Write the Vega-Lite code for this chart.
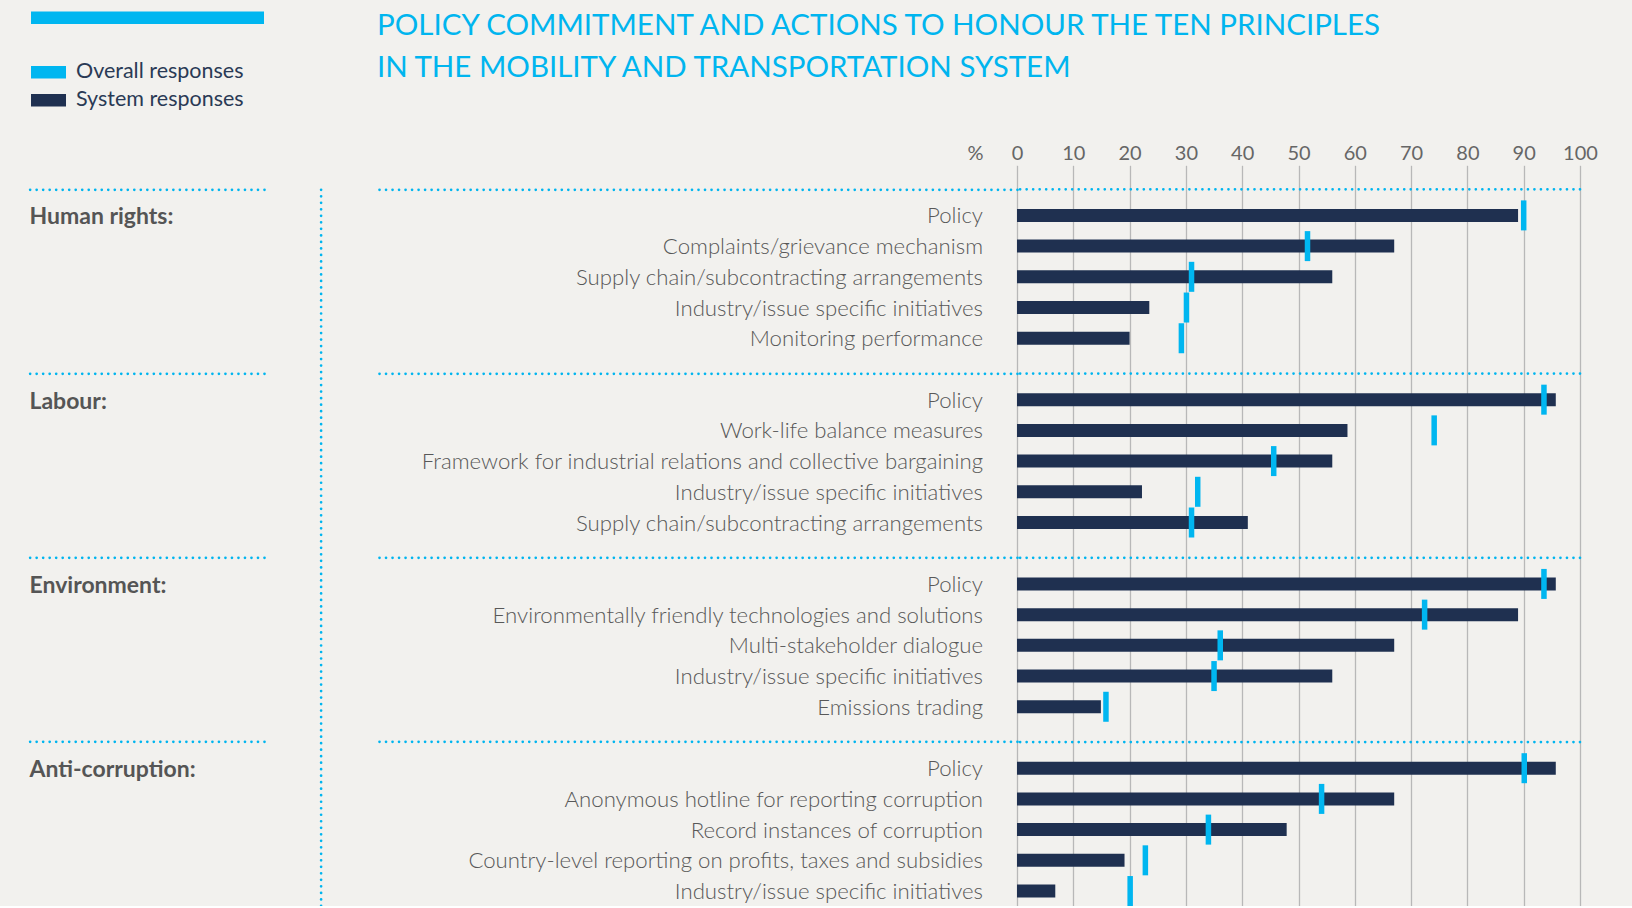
{
  "$schema": "https://vega.github.io/schema/vega-lite/v6.json",
  "autosize": {"type": "none"},
  "padding": {"left": 1017, "top": 189.3, "right": 52, "bottom": 0},
  "width": 563,
  "height": 717.1,
  "background": "#F2F1EE",
  "title": {
    "text": ["POLICY COMMITMENT AND ACTIONS TO HONOUR THE TEN PRINCIPLES", "IN THE MOBILITY AND TRANSPORTATION SYSTEM"],
    "anchor": "start",
    "frame": "group",
    "dx": -640,
    "dy": 72,
    "offset": 0,
    "font": "Lato",
    "fontSize": 29.5,
    "fontWeight": "normal",
    "color": "#00B5EF",
    "lineHeight": 41.5
  },
  "data": {
    "values": [
      {"key": "Policy|Human rights:", "system": 89, "overall": 90},
      {"key": "Complaints/grievance mechanism|Human rights:", "system": 67, "overall": 51.6},
      {"key": "Supply chain/subcontracting arrangements|Human rights:", "system": 56, "overall": 31},
      {"key": "Industry/issue specific initiatives|Human rights:", "system": 23.5, "overall": 30.1},
      {"key": "Monitoring performance|Human rights:", "system": 20, "overall": 29.2},
      {"key": "Policy|Labour:", "system": 95.7, "overall": 93.6},
      {"key": "Work-life balance measures|Labour:", "system": 58.7, "overall": 74.1},
      {"key": "Framework for industrial relations and collective bargaining|Labour:", "system": 56, "overall": 45.6},
      {"key": "Industry/issue specific initiatives|Labour:", "system": 22.2, "overall": 32.1},
      {"key": "Supply chain/subcontracting arrangements|Labour:", "system": 41, "overall": 31},
      {"key": "Policy|Environment:", "system": 95.7, "overall": 93.6},
      {"key": "Environmentally friendly technologies and solutions|Environment:", "system": 89, "overall": 72.4},
      {"key": "Multi-stakeholder dialogue|Environment:", "system": 67, "overall": 36.1},
      {"key": "Industry/issue specific initiatives|Environment:", "system": 56, "overall": 35},
      {"key": "Emissions trading|Environment:", "system": 14.9, "overall": 15.8},
      {"key": "Policy|Anti-corruption:", "system": 95.7, "overall": 90.1},
      {"key": "Anonymous hotline for reporting corruption|Anti-corruption:", "system": 67, "overall": 54.1},
      {"key": "Record instances of corruption|Anti-corruption:", "system": 47.9, "overall": 34},
      {"key": "Country-level reporting on profits, taxes and subsidies|Anti-corruption:", "system": 19.1, "overall": 22.8},
      {"key": "Industry/issue specific initiatives|Anti-corruption:", "system": 6.8, "overall": 20.1}
    ]
  },
  "encoding": {
    "y": {
      "field": "key",
      "type": "nominal",
      "scale": {
        "domain": [
          "Policy|Human rights:", "Complaints/grievance mechanism|Human rights:", "Supply chain/subcontracting arrangements|Human rights:", "Industry/issue specific initiatives|Human rights:", "Monitoring performance|Human rights:",
          "|gap1",
          "Policy|Labour:", "Work-life balance measures|Labour:", "Framework for industrial relations and collective bargaining|Labour:", "Industry/issue specific initiatives|Labour:", "Supply chain/subcontracting arrangements|Labour:",
          "|gap2",
          "Policy|Environment:", "Environmentally friendly technologies and solutions|Environment:", "Multi-stakeholder dialogue|Environment:", "Industry/issue specific initiatives|Environment:", "Emissions trading|Environment:",
          "|gap3",
          "Policy|Anti-corruption:", "Anonymous hotline for reporting corruption|Anti-corruption:", "Record instances of corruption|Anti-corruption:", "Country-level reporting on profits, taxes and subsidies|Anti-corruption:", "Industry/issue specific initiatives|Anti-corruption:"
        ],
        "paddingInner": 0,
        "paddingOuter": 0.175,
        "align": 1
      }
    }
  },
  "layer": [
    {
      "mark": {"type": "bar", "height": 13, "strokeWidth": 0},
      "encoding": {
        "y": {
          "field": "key",
          "type": "nominal",
          "axis": {
            "orient": "left",
            "offset": 696.4,
            "title": null,
            "domain": true,
            "domainColor": "#00B5EF",
            "domainDash": [0.01, 6.5],
            "domainCap": "round",
            "domainWidth": 2.7,
            "ticks": false,
            "grid": false,
            "labelPadding": -661.9,
            "labelOffset": 1,
            "labelExpr": "split(datum.value, '|')[0]",
            "labelFont": "Lato",
            "labelFontSize": 22.2,
            "labelFontWeight": 300,
            "labelColor": "#585858",
            "labelBound": false,
            "labelOverlap": false,
            "labelLimit": 0
          }
        },
        "x": {
          "field": "system",
          "type": "quantitative",
          "scale": {"domain": [0, 100], "nice": false},
          "axis": {
            "orient": "top",
            "values": [0, 10, 20, 30, 40, 50, 60, 70, 80, 90, 100],
            "title": "%",
            "titleX": -42,
            "titleY": -26,
            "titleAlign": "center",
            "titleBaseline": "bottom",
            "titleFont": "Lato",
            "titleFontSize": 20,
            "titleFontWeight": "normal",
            "titleColor": "#666666",
            "grid": true,
            "gridColor": "#B8B8B8",
            "gridWidth": 1.3,
            "domain": false,
            "ticks": true,
            "tickSize": 24,
            "tickColor": "#B8B8B8",
            "tickWidth": 1.3,
            "labelPadding": 2,
            "labelFont": "Lato",
            "labelFontSize": 20,
            "labelColor": "#666666",
            "labelFlush": false,
            "labelOverlap": false
          }
        },
        "color": {
          "datum": "System responses",
          "type": "nominal",
          "scale": {"domain": ["Overall responses", "System responses"], "range": ["#00B6F0", "#1F3050"]},
          "legend": {
            "orient": "none",
            "legendX": -986,
            "legendY": -134.5,
            "title": null,
            "padding": 0,
            "symbolType": "M-1,-0.36H1V0.36H-1Z",
            "symbolSize": 1225,
            "symbolStrokeWidth": 0,
            "symbolOpacity": 1,
            "labelFont": "Lato",
            "labelFontSize": 21.5,
            "labelColor": "#2A3A55",
            "labelOffset": 10,
            "labelLimit": 400,
            "rowPadding": -3
          }
        },
        "stroke": {
          "field": "system",
          "type": "quantitative",
          "scale": {"range": ["#00B6F0", "#00B6F0"]},
          "legend": {
            "orient": "none",
            "legendX": -986,
            "legendY": -177.8,
            "direction": "horizontal",
            "title": null,
            "padding": 0,
            "gradientLength": 233,
            "gradientThickness": 12.5,
            "gradientStrokeWidth": 0,
            "labelOpacity": 0,
            "labelFontSize": 1
          }
        }
      }
    },
    {
      "mark": {"type": "tick", "orient": "vertical", "thickness": 5.5, "size": 30, "opacity": 1},
      "encoding": {
        "y": {
          "field": "key",
          "type": "nominal",
          "axis": {
            "orient": "left",
            "offset": 753,
            "values": ["Policy|Human rights:", "Policy|Labour:", "Policy|Environment:", "Policy|Anti-corruption:"],
            "bandPosition": -0.35,
            "title": null,
            "domain": false,
            "grid": false,
            "ticks": true,
            "tickSize": 235,
            "tickColor": "#00B5EF",
            "tickDash": [0.01, 6.5],
            "tickCap": "round",
            "tickWidth": 2.7,
            "labelExpr": "split(datum.value, '|')[1]",
            "labelAlign": "left",
            "labelBaseline": "middle",
            "labelPadding": 0,
            "labelOffset": 2,
            "labelFont": "Lato",
            "labelFontSize": 23,
            "labelFontWeight": "bold",
            "labelColor": "#555555",
            "labelBound": false,
            "labelOverlap": false,
            "labelLimit": 0
          }
        },
        "x": {"field": "overall", "type": "quantitative", "title": "%"},
        "color": {"datum": "Overall responses", "type": "nominal"}
      }
    },
    {
      "transform": [{"filter": "indexof(datum.key, 'Policy|') == 0"}],
      "mark": {"type": "rule", "color": "#00B5EF", "strokeDash": [0.01, 6.5], "strokeCap": "round", "strokeWidth": 2.7},
      "encoding": {
        "y": {
          "field": "key",
          "type": "nominal",
          "bandPosition": -0.35,
          "axis": {
            "orient": "left",
            "offset": 0,
            "values": ["Policy|Human rights:", "Policy|Labour:", "Policy|Environment:", "Policy|Anti-corruption:"],
            "bandPosition": -0.35,
            "title": null,
            "domain": false,
            "grid": false,
            "labels": false,
            "ticks": true,
            "tickSize": 641,
            "tickColor": "#00B5EF",
            "tickDash": [0.01, 6.5],
            "tickCap": "round",
            "tickWidth": 2.7
          }
        }
      }
    }
  ],
  "resolve": {"scale": {"y": "shared", "x": "shared", "color": "shared"}, "axis": {"y": "independent"}},
  "config": {"view": {"stroke": null}, "font": "Lato"}
}
